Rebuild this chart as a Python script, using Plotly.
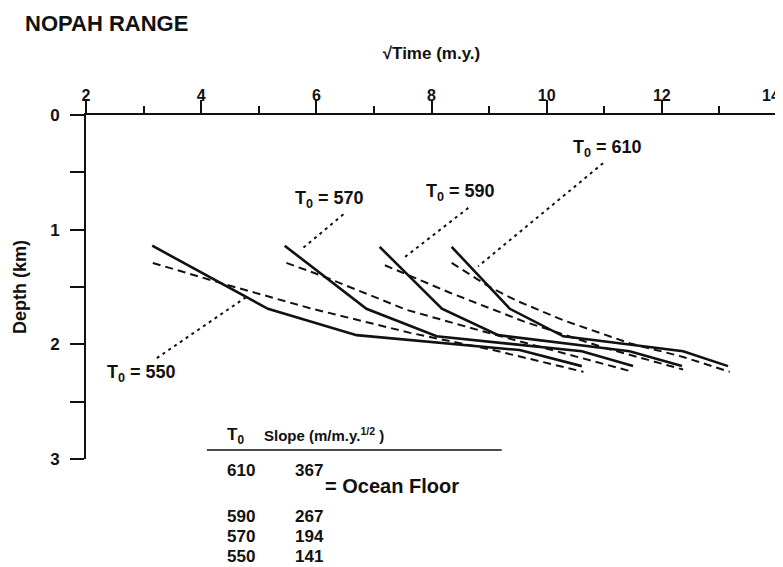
import plotly.graph_objects as go

# ---------------- data ----------------
t0_values = [550, 570, 590, 610]

# observed (solid) subsidence curves: sqrt(time) vs depth (km)
solid_550_x = [3.15, 5.16, 6.70, 9.53, 10.61]
solid_550_y = [1.14, 1.69, 1.92, 2.05, 2.19]
solid_570_x = [5.45, 6.87, 8.09, 10.61, 11.50]
solid_570_y = [1.14, 1.69, 1.93, 2.06, 2.19]
solid_590_x = [7.10, 8.18, 9.16, 11.44, 12.35]
solid_590_y = [1.15, 1.69, 1.92, 2.06, 2.19]
solid_610_x = [8.35, 9.36, 10.29, 12.37, 13.15]
solid_610_y = [1.15, 1.69, 1.93, 2.06, 2.19]

# model (dashed) curves
dash_550_x = [3.16, 4.44, 5.89, 7.63, 9.07, 10.64]
dash_550_y = [1.29, 1.48, 1.685, 1.90, 2.05, 2.24]
dash_570_x = [5.48, 6.06, 7.57, 9.13, 11.50]
dash_570_y = [1.29, 1.395, 1.70, 1.92, 2.24]
dash_590_x = [7.19, 8.32, 9.60, 11.00, 12.37]
dash_590_y = [1.31, 1.55, 1.80, 2.03, 2.22]
dash_610_x = [8.35, 9.01, 9.48, 10.29, 11.44, 12.37, 13.18]
dash_610_y = [1.29, 1.50, 1.62, 1.79, 1.99, 2.11, 2.24]

# dotted label leaders
lead_550_x = [3.23, 4.79]
lead_550_y = [2.12, 1.585]
lead_570_x = [6.47, 5.72]
lead_570_y = [0.866, 1.18]
lead_590_x = [8.64, 7.51]
lead_590_y = [0.81, 1.25]
lead_610_x = [10.98, 8.81]
lead_610_y = [0.42, 1.32]

# table
table_t0 = [610, 590, 570, 550]
table_slope = [367, 267, 194, 141]

x_ticks = [2, 4, 6, 8, 10, 12, 14]
y_ticks = [0, 1, 2, 3]

# ---------------- layout constants ----------------
FONT = "Liberation Sans"
BLACK = "#111111"
PLOT_TOP, PLOT_BOTTOM = 115, 459           # pixel rows of the plot area (screen)
label_pos = {550: (2.97, 2.25), 570: (6.22, 0.74), 590: (8.51, 0.68), 610: (11.05, 0.29)}
table_row_px = [470, 516.7, 536.7, 556.7]  # pixel rows of table lines (screen)
LAST_LABEL_X = 13.90                       # the "14" label sits just left of its tick


def paper_y(py):
    return (PLOT_BOTTOM - py) / (PLOT_BOTTOM - PLOT_TOP)


def bold(size, family=FONT):
    return dict(family=family, size=size, color=BLACK, weight="bold")


fig = go.Figure()

solids = [(solid_550_x, solid_550_y), (solid_570_x, solid_570_y),
          (solid_590_x, solid_590_y), (solid_610_x, solid_610_y)]
dashes = [(dash_550_x, dash_550_y), (dash_570_x, dash_570_y),
          (dash_590_x, dash_590_y), (dash_610_x, dash_610_y)]
leads = [(lead_550_x, lead_550_y), (lead_570_x, lead_570_y),
         (lead_590_x, lead_590_y), (lead_610_x, lead_610_y)]

for t0, (lx, ly) in zip(t0_values, leads):
    fig.add_trace(go.Scatter(x=lx, y=ly, mode="lines", showlegend=False,
                             line=dict(color=BLACK, width=2, dash="3px,4px"),
                             hoverinfo="skip"))
for t0, (dx, dy) in zip(t0_values, dashes):
    fig.add_trace(go.Scatter(x=dx, y=dy, mode="lines", name=f"model {t0}", showlegend=False,
                             line=dict(color=BLACK, width=2, dash="8px,5px")))
for t0, (sx, sy) in zip(t0_values, solids):
    fig.add_trace(go.Scatter(x=sx, y=sy, mode="lines", name=f"T0 = {t0}", showlegend=False,
                             line=dict(color=BLACK, width=2.6)))

annotations = []
for t0 in t0_values:
    x, y = label_pos[t0]
    annotations.append(dict(x=x, y=y, xref="x", yref="y", showarrow=False,
                            xanchor="center", yanchor="middle",
                            text=f"T<sub>0</sub> = {t0}", font=bold(18)))


def table_text(x, py, text, size=17):
    return dict(x=x, y=paper_y(py), xref="x", yref="paper", showarrow=False,
                xanchor="left", yanchor="middle", text=text, font=bold(size))


annotations.append(table_text(4.41, 436, "T<sub>0</sub>"))
annotations.append(table_text(5.05, 434, "Slope (m/m.y.<sup>1/2</sup> )", 15))
for i, (t0, s) in enumerate(zip(table_t0, table_slope)):
    annotations.append(table_text(4.41, table_row_px[i], str(t0)))
    annotations.append(table_text(5.59, table_row_px[i], str(s)))
annotations.append(table_text(6.11, 486, "= Ocean Floor", 20))

annotations.append(dict(x=-0.091, y=paper_y(24), xref="paper", yref="paper",
                        showarrow=False, xanchor="left", yanchor="middle",
                        text="NOPAH RANGE", font=bold(22)))

# last top tick label: placed just left of its tick so it stays on the page
x_ticktext = [str(v) for v in x_ticks]
annotations.append(dict(x=LAST_LABEL_X, y=paper_y(96), xref="x", yref="paper",
                        showarrow=False, xanchor="center", yanchor="middle",
                        text=x_ticktext[-1], font=bold(16)))
x_ticktext[-1] = ""

# the page body adds an 8 px offset, so the figure is 8 px smaller than the window
fig.update_layout(
    width=775, height=559,
    margin=dict(l=78, r=6, t=107, b=108, autoexpand=False),
    paper_bgcolor="white", plot_bgcolor="white",
    annotations=annotations,
    shapes=[dict(type="line", xref="x", yref="paper", x0=4.10, x1=9.22,
                 y0=paper_y(450), y1=paper_y(450),
                 line=dict(color=BLACK, width=1.5))],
    xaxis=dict(
        range=[2, 14], side="top", tickvals=x_ticks, ticktext=x_ticktext,
        showline=True, linecolor=BLACK, linewidth=2, mirror=False, automargin=False,
        ticks="outside", ticklen=13, tickwidth=2, tickcolor=BLACK,
        minor=dict(dtick=1, tick0=2, ticks="outside", ticklen=7, tickwidth=2, tickcolor=BLACK, showgrid=False),
        showgrid=False, zeroline=False, ticklabelstandoff=-7,
        tickfont=bold(16),
        title=dict(text="√Time (m.y.)", standoff=23, font=bold(17)),
    ),
    yaxis=dict(
        range=[3, 0], tickvals=y_ticks, ticktext=[str(v) for v in y_ticks],
        showline=True, linecolor=BLACK, linewidth=2, mirror=False, automargin=False,
        ticks="outside", ticklen=14, tickwidth=2, tickcolor=BLACK,
        minor=dict(dtick=0.5, tick0=0, ticks="outside", ticklen=14, tickwidth=2, tickcolor=BLACK, showgrid=False),
        showgrid=False, zeroline=False, ticklabelstandoff=7,
        tickfont=bold(17),
        title=dict(text="Depth (km)", standoff=19, font=bold(18)),
    ),
)

fig.write_html("out.html")
